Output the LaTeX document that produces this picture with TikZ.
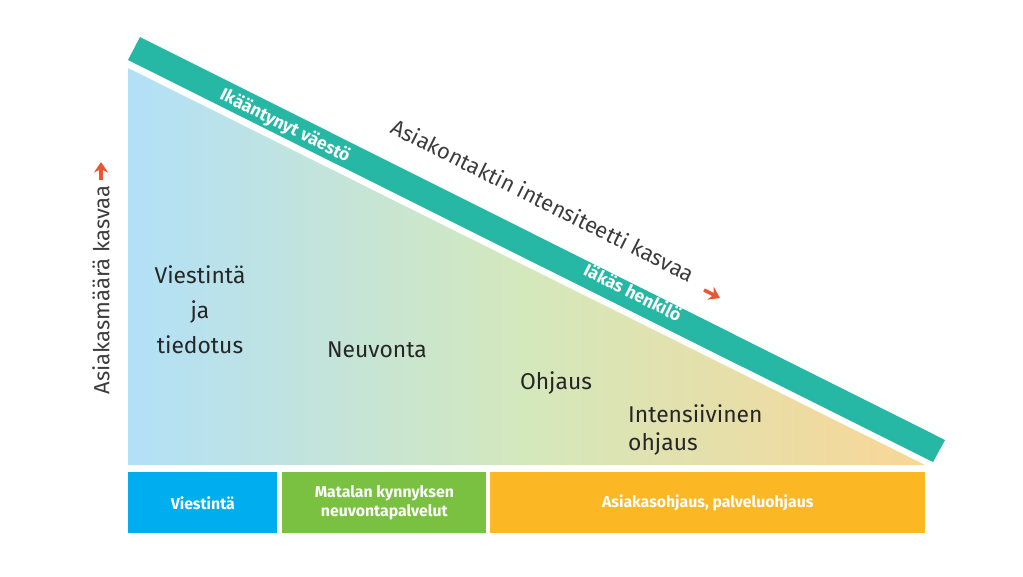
\documentclass[tikz,border=0pt]{standalone}
\usepackage{fontspec}
\setmainfont{Fira Sans}
\usetikzlibrary{arrows.meta}
\definecolor{tealband}{RGB}{38,184,165}
\definecolor{skyblue}{RGB}{178,224,248}
\definecolor{palegreen}{RGB}{212,232,188}
\definecolor{paleorange}{RGB}{249,214,150}
\definecolor{boxblue}{RGB}{0,174,239}
\definecolor{boxgreen}{RGB}{122,193,66}
\definecolor{boxorange}{RGB}{251,183,36}
\definecolor{arroworange}{RGB}{235,85,50}
\definecolor{textgray}{RGB}{60,60,60}

\begin{document}
\begin{tikzpicture}[x=0.02cm,y=-0.02cm]
\tikzstyle{level} = [font=\fontsize{13}{16}\selectfont, text=black!85, align=center]
\tikzstyle{band} = [font=\bfseries\fontsize{10}{11}\selectfont, text=white, rotate=-26.6]
\tikzstyle{axis} = [font=\fontsize{12.5}{15}\selectfont, text=textgray]
\tikzstyle{basebox} = [draw=none, minimum height=1.22cm, inner sep=0pt, text=white,
  font=\bfseries\fontsize{9}{11}\selectfont, align=center, anchor=north west]
\tikzstyle{up} = [-{Stealth[length=6pt,width=8pt]}, draw=arroworange, line width=2pt]

\useasboundingbox (0,0) rectangle (1023,576);

% triangle
\shade[left color=skyblue, right color=paleorange, middle color=palegreen]
  (128,68) -- (128,465) -- (925,465) -- cycle;

% band
\fill[tealband] (128,60) -- (140,37) -- (945,440) -- (933,462) -- cycle;
\node[band] (old) at (285,126) {Ikääntynyt väestö};
\node[band] (aged) at (633,292) {Iäkäs henkilö};

% axis labels
\node[axis, rotate=-26.6] (intens) at (543,200) {Asiakontaktin intensiteetti kasvaa};
\coordinate (iA) at (704,290);
\coordinate (iB) at (720,298);
\draw[up] (iA) -- (iB);
\node[axis, rotate=90] (count) at (101,290) {Asiakasmäärä kasvaa};
\coordinate (cA) at (101,180);
\coordinate (cB) at (101,162);
\draw[up] (cA) -- (cB);

% levels
\node[level] (info) at (200,310) {Viestintä\\[4pt]ja\\[4pt]tiedotus};
\node[level] (advice) at (377,350) {Neuvonta};
\node[level] (guide) at (556,383) {Ohjaus};
\node[level, align=left, anchor=north west] (intense) at (622,398) {Intensiivinen\\ohjaus};

% base boxes
\node[basebox, fill=boxblue, minimum width=2.98cm] (b1) at (128,472) {Viestintä};
\node[basebox, fill=boxgreen, minimum width=4.08cm] (b2) at (282,472) {Matalan kynnyksen\\neuvontapalvelut};
\node[basebox, fill=boxorange, minimum width=8.7cm] (b3) at (490,472) {Asiakasohjaus, palveluohjaus};
\end{tikzpicture}
\end{document}
